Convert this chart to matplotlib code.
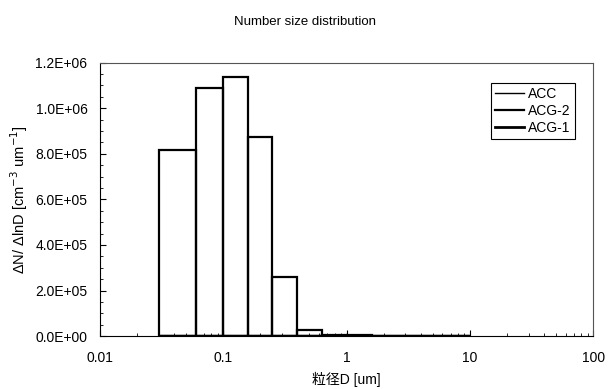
import numpy as np
import matplotlib.pyplot as plt
from matplotlib.ticker import FuncFormatter, MultipleLocator, FixedLocator

plt.rcParams['font.family'] = ['Liberation Sans', 'Noto Sans CJK JP', 'DejaVu Sans']

# 粒径区间的边界 (um)
bin_edges = [0.03, 0.06, 0.1, 0.16, 0.25, 0.4, 0.63, 1.0, 1.6, 2.5, 4.0, 6.3, 10.0]
# 各系列 dN/dlnD
acc = [8.15e5, 1.09e6, 1.138e6, 8.74e5, 2.58e5, 2.6e4, 6.0e3, 3.5e3, 2.0e3, 1.2e3, 8.0e2, 5.0e2]
acg2 = [0, 0, 0, 0, 0, 0, 0, 0, 0, 0, 0, 0]
acg1 = [0, 0, 0, 0, 0, 0, 0, 0, 0, 0, 0, 0]
series_names = ['ACC', 'ACG-2', 'ACG-1']
line_widths = [1.0, 1.6, 2.0]
x_ticks = [0.01, 0.1, 1, 10, 100]

fig = plt.figure(figsize=(6.09, 3.89), dpi=100)
ax = fig.add_axes([0.164, 0.136, 0.81, 0.703])

edges = np.array(bin_edges)
widths = np.diff(edges)
for name, vals, lw in zip(series_names, [acc, acg2, acg1], line_widths):
    ax.bar(edges[:-1], vals, width=widths, align='edge', fill=False,
           edgecolor='black', linewidth=1.6)
    ax.plot([], [], color='black', linewidth=lw, label=name)

ax.set_xscale('log')
ax.set_xlim(0.01, 100)
ax.set_ylim(0, 1.2e6)
ax.xaxis.set_major_locator(FixedLocator(x_ticks))
ax.xaxis.set_major_formatter(FuncFormatter(lambda v, p: '{:g}'.format(v)))
ax.yaxis.set_major_locator(MultipleLocator(2e5))
ax.yaxis.set_minor_locator(MultipleLocator(5e4))
ax.yaxis.set_major_formatter(FuncFormatter(lambda v, p: '{:.1E}'.format(v)))
ax.tick_params(which='both', direction='in', labelsize=10, top=False, right=False)
ax.tick_params(which='major', length=4)
ax.tick_params(which='minor', length=2.5)
ax.tick_params(axis='y', pad=9)
ax.tick_params(axis='x', pad=10.5)
for s in ax.spines.values():
    s.set_linewidth(0.8)
ax.spines['top'].set_color('#555555')
ax.spines['right'].set_color('#555555')

ax.set_ylabel('ΔN/ ΔlnD [cm$^{-3}$ um$^{-1}$]', fontsize=10.5, labelpad=4)
ax.set_xlabel('粒径D [um]', fontsize=10, labelpad=5)
fig.text(0.5, 1 - 22 / 389, 'Number size distribution', ha='center', va='center', fontsize=9.5)

leg = ax.legend(loc='upper right', bbox_to_anchor=(0.963, 0.925), borderaxespad=0,
                fontsize=10, handlelength=2.1, handletextpad=0.3, borderpad=0.3,
                labelspacing=0.2, fancybox=False, framealpha=1, edgecolor='black')
leg.get_frame().set_linewidth(0.8)

fig.savefig('out.png', dpi=100)
